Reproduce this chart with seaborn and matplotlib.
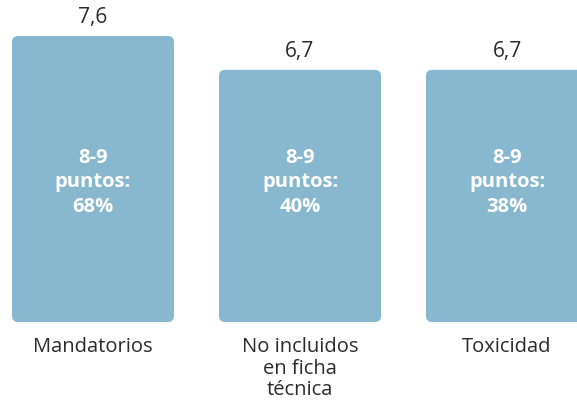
import matplotlib
matplotlib.use("Agg")
import matplotlib.pyplot as plt
import seaborn as sns
import pandas as pd
from matplotlib.patches import FancyBboxPatch

# Data
categories = ["Mandatorios", "No incluidos\nen ficha\ntécnica", "Toxicidad"]
scores = [7.6, 6.7, 6.7]
share_8_9 = ["68%", "40%", "38%"]

df = pd.DataFrame({"cat": categories, "score": scores})

sns.set_theme(style="white")
plt.rcParams["font.family"] = ["Open Sans", "DejaVu Sans"]

bar_color = "#87b8cf"
text_color = "#2b2b2b"
step = 207  # px between bar centres

fig = plt.figure(figsize=(5.77, 4.05), dpi=100)
ax = fig.add_axes([0, 83 / 405, 1, 286 / 405])

sns.barplot(data=df, x="cat", y="score", color=bar_color, width=162 / step,
            saturation=1, ax=ax)

# swap rectangles for rounded ones
for p in list(ax.patches):
    x, y, w, h = p.get_x(), p.get_y(), p.get_width(), p.get_height()
    p.remove()
    rb = FancyBboxPatch((x, y), w, h,
                        boxstyle="round,pad=0,rounding_size=0.03",
                        mutation_aspect=5.3,
                        facecolor=bar_color, edgecolor="none", clip_on=False)
    ax.add_patch(rb)

ax.set_xlim(-93 / step, (577 - 93) / step)
ax.set_ylim(0, 7.6)

for i, (v, s) in enumerate(zip(scores, share_8_9)):
    ax.text(i, v + 0.2, f"{v:.1f}".replace(".", ","), ha="center", va="bottom",
            fontsize=15, color=text_color, clip_on=False)
    ax.text(i, 3.72, f"8-9\npuntos:\n{s}", ha="center", va="center",
            fontsize=14.5, fontweight="bold", color="white", linespacing=1.3)

ax.set_xlabel("")
ax.set_ylabel("")
ax.set_yticks([])
ax.tick_params(axis="x", length=0, pad=11, labelsize=14.5, labelcolor=text_color)
for lbl in ax.get_xticklabels():
    lbl.set_linespacing(1.1)
    lbl.set_va("top")
sns.despine(ax=ax, left=True, bottom=True)

fig.savefig("out.png", dpi=100)
